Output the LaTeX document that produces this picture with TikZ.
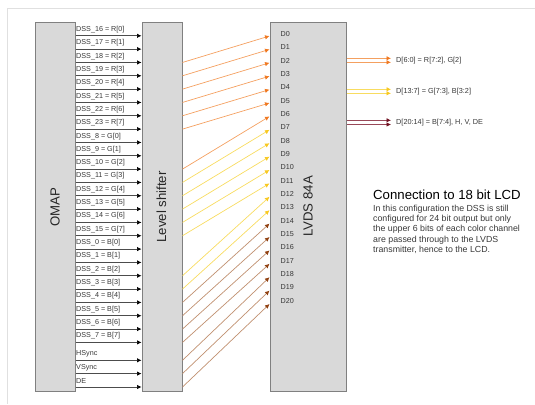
\documentclass[tikz,border=0pt]{standalone}
\usepackage{fontspec}
\setmainfont{Liberation Sans}
\usetikzlibrary{arrows.meta,positioning}

\definecolor{boxgray}{HTML}{D9D9D9}
\definecolor{boxline}{HTML}{808080}
\definecolor{wireorange}{HTML}{F4A060}
\definecolor{tiporange}{HTML}{F07820}
\definecolor{wireyellow}{HTML}{F8DC60}
\definecolor{tipyellow}{HTML}{F8C820}
\definecolor{wirebrown}{HTML}{C09070}
\definecolor{tipbrown}{HTML}{904010}
\definecolor{wiremaroon}{HTML}{984858}
\definecolor{tipmaroon}{HTML}{701020}
\definecolor{textgray}{HTML}{383838}

\begin{document}
\begin{tikzpicture}[x=1pt,y=-1pt,
  block/.style={draw=boxline, line width=0.9pt, fill=boxgray, anchor=north west, inner sep=0pt},
  blocktext/.style={rotate=90, font=\fontsize{13.2}{15}\selectfont, text=black!85},
  wirelabel/.style={font=\fontsize{7.2}{8}\selectfont, anchor=west, inner sep=0pt, text=textgray},
  wire/.style={line width=0.7pt, black!70, -{Latex[length=4.5pt,width=4.5pt,black]}},
  redwire/.style={line width=0.7pt, wireorange, -{Latex[length=4.5pt,width=4.5pt,tiporange]}},
  greenwire/.style={line width=0.7pt, wireyellow, -{Latex[length=4.5pt,width=4.5pt,tipyellow]}},
  bluewire/.style={line width=0.7pt, wirebrown, -{Latex[length=4.5pt,width=4.5pt,tipbrown]}},
  syncwire/.style={line width=0.7pt, wiremaroon, -{Latex[length=4.5pt,width=4.5pt,tipmaroon]}}]
  \useasboundingbox (0,0) rectangle (535,404);
  % page frame
  \draw[black!12, line width=0.7pt] (7.5,404) -- (7.5,8.5) -- (535,8.5);
  % blocks
  \node[block, minimum width=40pt, minimum height=369pt] (omap) at (35,22) {};
  \node[block, minimum width=40pt, minimum height=369pt] (shifter) at (142,22) {};
  \node[block, minimum width=76pt, minimum height=369pt] (lvds) at (270,22) {};
  \node[blocktext] (omaptext) at (55,207) {OMAP};
  \node[blocktext] (shiftertext) at (161.5,207) {Level shifter};
  \node[blocktext] (lvdstext) at (308,206.5) {LVDS 84A};
  % bus from OMAP to the level shifter
  \foreach \lab [count=\i from 0] in {DSS\_16 = R[0],DSS\_17 = R[1],DSS\_18 = R[2],DSS\_19 = R[3],
      DSS\_20 = R[4],DSS\_21 = R[5],DSS\_22 = R[6],DSS\_23 = R[7],
      DSS\_8 = G[0],DSS\_9 = G[1],DSS\_10 = G[2],DSS\_11 = G[3],
      DSS\_12 = G[4],DSS\_13 = G[5],DSS\_14 = G[6],DSS\_15 = G[7],
      DSS\_0 = B[0],DSS\_1 = B[1],DSS\_2 = B[2],DSS\_3 = B[3],
      DSS\_4 = B[4],DSS\_5 = B[5],DSS\_6 = B[6],DSS\_7 = B[7]} {
    \coordinate (in\i) at (75.5,35.8+13.33*\i);
    \coordinate (out\i) at (141.5,35.8+13.33*\i);
    \coordinate (src\i) at (182.5,35.8+13.33*\i);
    \draw[wire] (in\i) -- (out\i);
    \node[wirelabel] (lab\i) at (76,29.5+13.33*\i) {\lab};
  }
  \foreach \lab/\ya [count=\i from 24] in {HSync/360.3,VSync/373.6,DE/387} {
    \coordinate (in\i) at (75.5,\ya);
    \coordinate (out\i) at (141.5,\ya);
    \coordinate (src\i) at (182.5,\ya);
    \draw[wire] (in\i) -- (out\i);
    \node[wirelabel] (lab\i) at (76,\ya-6.3) {\lab};
  }
  % LVDS inputs
  \foreach \i in {0,...,20} {
    \coordinate (d\i) at (269.5,36+13.4*\i);
    \node[wirelabel] (dlab\i) at (280.5,34+13.33*\i) {D\i};
  }
  \foreach \s/\d in {2/0,3/1,4/2,5/3,6/4,7/5,10/6}
    \draw[redwire] (src\s) -- (d\d);
  \foreach \s/\d in {11/7,12/8,13/9,14/10,15/11,18/12,19/13}
    \draw[greenwire] (src\s) -- (d\d);
  \foreach \s/\d in {20/14,21/15,22/16,23/17,24/18,25/19,26/20}
    \draw[bluewire] (src\s) -- (d\d);
  % LVDS outputs
  \foreach \name/\ya/\sty in {ra/58.3/redwire,rb/62.3/redwire,ga/89.3/greenwire,gb/93.3/greenwire,ba/120.3/syncwire,bb/124.5/syncwire} {
    \coordinate (from\name) at (346.5,\ya);
    \coordinate (to\name) at (391,\ya);
    \draw[\sty] (from\name) -- (to\name);
  }
  \node[wirelabel, font=\fontsize{7.3}{8}\selectfont] (redout) at (396,60.7) {D[6:0] = R[7:2], G[2]};
  \node[wirelabel, font=\fontsize{7.3}{8}\selectfont] (greenout) at (396,92) {D[13:7] = G[7:3], B[3:2]};
  \node[wirelabel, font=\fontsize{7.3}{8}\selectfont] (blueout) at (396,123) {D[20:14] = B[7:4], H, V, DE};
  % note
  \node[anchor=west, inner sep=0pt, font=\fontsize{13.2}{15}\selectfont] (title) at (373,195) {Connection to 18 bit LCD};
  \node[anchor=north west, inner sep=0pt, align=left, text=textgray, font=\fontsize{8.8}{10.4}\selectfont] (note) at (373,204.5)
    {In this configuration the DSS is still\\configured for 24 bit output but only\\the upper 6 bits of each color channel\\are passed through to the LVDS\\transmitter, hence to the LCD.};
\end{tikzpicture}
\end{document}
